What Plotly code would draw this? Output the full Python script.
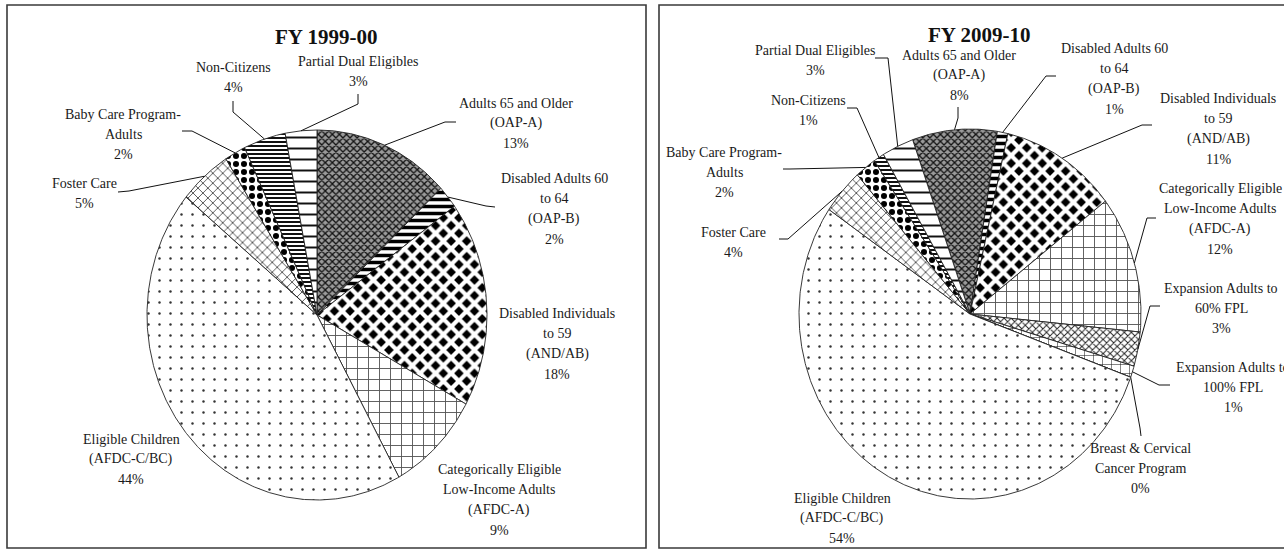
import numpy as np
import plotly.graph_objects as go

# ---------------- data ----------------
title_9900 = "FY 1999-00"
categories_9900 = [
    "Adults 65 and Older\n(OAP-A)",
    "Disabled Adults 60\nto 64\n(OAP-B)",
    "Disabled Individuals\nto 59\n(AND/AB)",
    "Categorically Eligible\nLow-Income Adults\n(AFDC-A)",
    "Eligible Children\n(AFDC-C/BC)",
    "Foster Care",
    "Baby Care Program-\nAdults",
    "Non-Citizens",
    "Partial Dual Eligibles",
]
shares_9900 = [13, 2, 18, 9, 44, 5, 2, 4, 3]

title_0910 = "FY 2009-10"
categories_0910 = [
    "Adults 65 and Older\n(OAP-A)",
    "Disabled Adults 60\nto 64\n(OAP-B)",
    "Disabled Individuals\nto 59\n(AND/AB)",
    "Categorically Eligible\nLow-Income Adults\n(AFDC-A)",
    "Expansion Adults to\n60% FPL",
    "Expansion Adults to\n100% FPL",
    "Breast & Cervical\nCancer Program",
    "Eligible Children\n(AFDC-C/BC)",
    "Foster Care",
    "Baby Care Program-\nAdults",
    "Non-Citizens",
    "Partial Dual Eligibles",
]
shares_0910 = [8, 1, 11, 12, 3, 1, 0, 54, 4, 2, 1, 3]

# ---------------- styling ----------------
FIG_W, FIG_H = 1284, 549
FONT = "Liberation Serif, Times New Roman, serif"
TEXT_COLOR = "#1a1a1a"
EDGE = "#222222"
LINE_GAP = 20.4

# fill pattern per category (shape, size, solidity, fg, bg)
PATTERNS = {
    "Adults 65 and Older\n(OAP-A)": ("x", 5, 0.45, "#111111", "#9a9a9a"),
    "Disabled Adults 60\nto 64\n(OAP-B)": ("-", 7, 0.5, "#000000", "#ffffff"),
    "Disabled Individuals\nto 59\n(AND/AB)": ("x", 11, 0.62, "#ffffff", "#000000"),
    "Categorically Eligible\nLow-Income Adults\n(AFDC-A)": ("+", 11, 0.16, "#555555", "#ffffff"),
    "Eligible Children\n(AFDC-C/BC)": (".", 11, 0.04, "#333333", "#ffffff"),
    "Foster Care": ("x", 7, 0.2, "#222222", "#ffffff"),
    "Baby Care Program-\nAdults": (".", 8, 0.45, "#000000", "#ffffff"),
    "Non-Citizens": ("-", 4, 0.5, "#111111", "#ffffff"),
    "Partial Dual Eligibles": ("-", 11, 0.18, "#111111", "#ffffff"),
    "Expansion Adults to\n60% FPL": ("x", 5, 0.35, "#222222", "#ffffff"),
    "Expansion Adults to\n100% FPL": ("+", 9, 0.12, "#222222", "#ffffff"),
    "Breast & Cervical\nCancer Program": ("", 8, 0.1, "#ffffff", "#ffffff"),
}

# label placement: text centre x, first line y, leader start, leader elbow
LAYOUT_9900 = {
    "Adults 65 and Older\n(OAP-A)": (516, 103, (456, 122), (445, 122)),
    "Disabled Adults 60\nto 64\n(OAP-B)": (554, 178, (495, 207), (486, 206)),
    "Disabled Individuals\nto 59\n(AND/AB)": (557, 313, None, None),
    "Categorically Eligible\nLow-Income Adults\n(AFDC-A)": (499, 469, None, None),
    "Eligible Children\n(AFDC-C/BC)": (131, 439, None, None),
    "Foster Care": (84, 183, (118, 192), (129, 191)),
    "Baby Care Program-\nAdults": (123, 114, (182, 131), (192, 131)),
    "Non-Citizens": (233, 67, (233, 101), (233, 112)),
    "Partial Dual Eligibles": (358, 61, (358, 94), (358, 104)),
}
LAYOUT_0910 = {
    "Adults 65 and Older\n(OAP-A)": (959, 55, (958, 107), (958, 118)),
    "Disabled Adults 60\nto 64\n(OAP-B)": (1114, 48, (1056, 76), (1046, 76)),
    "Disabled Individuals\nto 59\n(AND/AB)": (1218, 98, (1152, 125), (1142, 125)),
    "Categorically Eligible\nLow-Income Adults\n(AFDC-A)": (1220, 188, (1156, 218), (1147, 218)),
    "Expansion Adults to\n60% FPL": (1221, 288, (1160, 306), (1150, 306)),
    "Expansion Adults to\n100% FPL": (1233, 367, (1170, 385), (1159, 385)),
    "Breast & Cervical\nCancer Program": (1140, 448, (1141, 436), (1140, 428)),
    "Eligible Children\n(AFDC-C/BC)": (842, 498, None, None),
    "Foster Care": (733, 232, (779, 239), (788, 239)),
    "Baby Care Program-\nAdults": (724, 152, (783, 169), (790, 169)),
    "Non-Citizens": (808, 100, (847, 108), (857, 108)),
    "Partial Dual Eligibles": (815, 50, (875, 58), (888, 58)),
}

panels = [
    dict(title=title_9900, cats=categories_9900, vals=shares_9900,
         center=(317, 315), radii=(170, 185), start_deg=0.0,
         title_xy=(326, 37), frame=(7, 5, 646, 548), labels=LAYOUT_9900),
    dict(title=title_0910, cats=categories_0910, vals=shares_0910,
         center=(970, 314), radii=(171, 185), start_deg=-19.6,
         title_xy=(979, 35), frame=(659, 5, 1310, 548), labels=LAYOUT_0910),
]


def edge_point(center, radii, theta):
    cx, cy = center
    rx, ry = radii
    return cx + rx * np.sin(theta), cy - ry * np.cos(theta)


fig = go.Figure()
shapes = []
annotations = []

for p in panels:
    x0, y0, x1, y1 = p["frame"]
    shapes.append(dict(type="rect", xref="x", yref="y", x0=x0, y0=y0, x1=x1, y1=y1,
                       line=dict(color="#3a3a3a", width=1.6), fillcolor="rgba(0,0,0,0)",
                       layer="below"))
    annotations.append(dict(x=p["title_xy"][0], y=p["title_xy"][1], xref="x", yref="y",
                            text="<b>%s</b>" % p["title"], showarrow=False,
                            font=dict(family=FONT, size=21, color="#111111"),
                            xanchor="center", yanchor="middle"))

    total = float(sum(p["vals"]))
    start = np.deg2rad(p["start_deg"])
    cum = 0.0
    for cat, val in zip(p["cats"], p["vals"]):
        a0 = start + 2 * np.pi * cum / total
        a1 = start + 2 * np.pi * (cum + val) / total
        cum += val
        n = max(2, int(np.degrees(a1 - a0) * 2) + 2)
        th = np.linspace(a0, a1, n)
        ex, ey = edge_point(p["center"], p["radii"], th)
        xs = np.concatenate([[p["center"][0]], ex, [p["center"][0]]])
        ys = np.concatenate([[p["center"][1]], ey, [p["center"][1]]])
        shape, size, sol, fg, bg = PATTERNS[cat]
        fig.add_trace(go.Scatter(
            x=xs, y=ys, mode="lines", fill="toself",
            fillcolor=bg,
            fillpattern=dict(shape=shape, size=size, solidity=sol,
                             fgcolor=fg, bgcolor=bg, fillmode="replace"),
            line=dict(color=EDGE, width=0.9),
            hoverinfo="skip", showlegend=False))

        tx, ty, lead_start, lead_elbow = p["labels"][cat]
        lines = cat.split("\n") + ["%d%%" % val]
        for i, line in enumerate(lines):
            annotations.append(dict(x=tx, y=ty + i * LINE_GAP, xref="x", yref="y",
                                    text=line, showarrow=False,
                                    font=dict(family=FONT, size=14, color=TEXT_COLOR),
                                    xanchor="center", yanchor="middle"))
        if lead_start is not None:
            mid = 0.5 * (a0 + a1)
            mx, my = edge_point(p["center"], p["radii"], mid)
            fig.add_trace(go.Scatter(
                x=[lead_start[0], lead_elbow[0], mx],
                y=[lead_start[1], lead_elbow[1], my],
                mode="lines", line=dict(color="#111111", width=1),
                hoverinfo="skip", showlegend=False))

fig.update_layout(
    width=FIG_W, height=FIG_H,
    margin=dict(l=0, r=0, t=0, b=0),
    paper_bgcolor="white", plot_bgcolor="white",
    showlegend=False,
    shapes=shapes, annotations=annotations,
    xaxis=dict(range=[0, FIG_W], visible=False, fixedrange=True, domain=[0, 1]),
    yaxis=dict(range=[FIG_H, 0], visible=False, fixedrange=True, domain=[0, 1]),
)

fig.write_html("out.html")
